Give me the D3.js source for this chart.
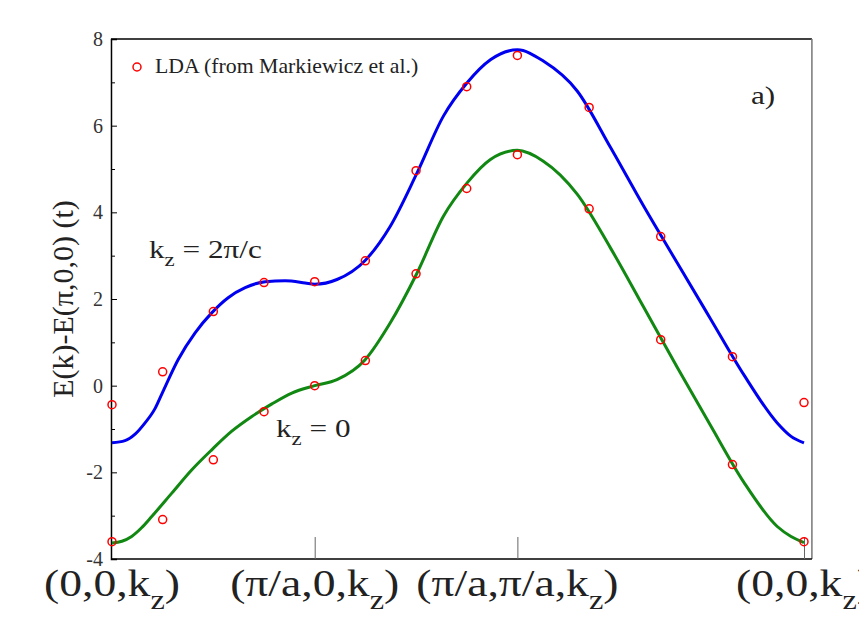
<!DOCTYPE html>
<html>
<head>
<meta charset="utf-8">
<script src="https://cdn.jsdelivr.net/npm/d3@7"></script>
<style>
  body { margin: 0; background: #fff; }
  text { font-family: "Liberation Serif", "Times New Roman", serif; fill: #222; }
</style>
</head>
<body>
<svg id="chart" width="859" height="621"></svg>
<script>
// k-path positions: (0,0) -> (pi,0) -> (pi,pi) -> (0,0), in units of pi/a
var kTicks = [0, 1, 2, 3.414];
var kTickLabels = ["(0,0,k", "(π/a,0,k", "(π/a,π/a,k", "(0,0,k"];

// tight-binding curve, kz = 2pi/c
var blueK = [0, 0.064, 0.114, 0.163, 0.212, 0.245, 0.326, 0.410, 0.492, 0.573, 0.657, 0.756, 0.854, 0.953, 1.0,
  1.110, 1.249, 1.373, 1.505, 1.635, 1.752, 1.867, 2.0,
  2.128, 2.295, 2.459, 2.622, 2.789, 2.953, 3.116, 3.282, 3.35, 3.414];
var blueE = [-1.32, -1.27, -1.12, -0.86, -0.53, -0.20, 0.60, 1.22, 1.68, 2.03, 2.26, 2.40, 2.42, 2.37, 2.34,
  2.45, 2.89, 3.68, 4.91, 6.22, 6.99, 7.52, 7.75,
  7.49, 6.80, 5.50, 4.15, 2.83, 1.54, 0.26, -0.86, -1.17, -1.32];

// tight-binding curve, kz = 0
var greenK = [0, 0.049, 0.097, 0.146, 0.196, 0.295, 0.394, 0.492, 0.591, 0.690, 0.789, 0.887, 1.0,
  1.110, 1.249, 1.373, 1.505, 1.635, 1.752, 1.867, 2.0,
  2.128, 2.295, 2.459, 2.622, 2.789, 2.953, 3.116, 3.282, 3.35, 3.414];
var greenE = [-3.63, -3.59, -3.48, -3.28, -3.02, -2.48, -1.94, -1.48, -1.05, -0.71, -0.42, -0.17, 0.0,
  0.14, 0.60, 1.45, 2.60, 3.91, 4.68, 5.22, 5.43,
  5.18, 4.42, 3.18, 1.82, 0.42, -0.92, -2.22, -3.25, -3.48, -3.62];

// LDA points (from Markiewicz et al.)
var ldaK = [0, 0.25, 0.5, 0.75, 1, 1.25, 1.5, 1.75, 2, 2.354, 2.707, 3.061, 3.414];
var ldaUpper = [-0.44, 0.32, 1.71, 2.38, 2.40, 2.88, 4.96, 6.90, 7.62, 6.42, 3.44, 0.67, -0.39];
var ldaLower = [-3.60, -3.09, -1.71, -0.60, 0.0, 0.58, 2.58, 4.55, 5.33, 4.08, 1.06, -1.82, -3.60];

var yMajor = [-4, -2, 0, 2, 4, 6, 8];
var yMinor = [-3, -1, 1, 3, 5, 7];

var svg = d3.select("#chart");

const x = d3.scaleLinear().domain([0, 3.414]).range([112, 804]);
const y = d3.scaleLinear().domain([-4, 8]).range([559, 39]);
const xLo = -0.005, xHi = 3.453;
const stretch = 1.2;   // the original text is drawn wider than normal

// frame
svg.append("line").attr("x1", x(xLo)).attr("x2", x(xHi)).attr("y1", y(8)).attr("y2", y(8))
  .attr("stroke", "#000").attr("stroke-width", 1.5);
svg.append("line").attr("x1", x(xHi)).attr("x2", x(xHi)).attr("y1", y(8)).attr("y2", y(-4))
  .attr("stroke", "#777").attr("stroke-width", 1.5);

// y axis
const yaxis = d3.axisLeft(y).tickValues(yMajor).tickSize(-6).tickPadding(8)
  .tickFormat(function(d) { return d < 0 ? "-" + Math.abs(d) : d; });
const gy = svg.append("g").attr("transform", `translate(${x(xLo)},0)`).call(yaxis);
gy.select(".domain").attr("stroke-width", 1.5);
gy.selectAll("text").style("font-size", "20px").style("fill", "#333");

const gym = svg.append("g").attr("transform", `translate(${x(xLo)},0)`)
  .call(d3.axisLeft(y).tickValues(yMinor).tickSize(-4).tickFormat(""));
gym.select(".domain").remove();

// x axis
const xaxis = d3.axisBottom(x).tickValues(kTicks.slice(1)).tickSize(-22).tickFormat("");
const gx = svg.append("g").attr("transform", `translate(0,${y(-4)})`).call(xaxis);
gx.select(".domain").attr("d", `M${x(xLo)},0H${x(xHi)}`).attr("stroke-width", 1.5);
gx.selectAll(".tick line").attr("stroke", "#666");

svg.selectAll(".klabel")
  .data(kTicks)
  .enter().append("text")
  .attr("class", "klabel")
  .attr("transform", function(d) { return `translate(${x(d)},596) scale(${stretch},1)`; })
  .attr("text-anchor", "middle")
  .style("font-size", "38px")
  .each(function(d, i) {
    const t = d3.select(this);
    t.append("tspan").text(kTickLabels[i]);
    t.append("tspan").attr("dy", 13).style("font-size", "27px").text("z");
    t.append("tspan").attr("dy", -13).text(")");
  });

// y title
svg.append("text")
  .attr("transform", `translate(73,${(y(8) + y(-4)) / 2}) rotate(-90)`)
  .attr("text-anchor", "middle")
  .style("font-size", "30px")
  .text("E(k)-E(π,0,0) (t)");

// curves
const line = d3.line()
  .x(function(d) { return x(d[0]); })
  .y(function(d) { return y(d[1]); })
  .curve(d3.curveMonotoneX);

svg.append("path")
  .datum(d3.zip(blueK, blueE))
  .attr("d", line)
  .attr("fill", "none")
  .attr("stroke", "#0000f0")
  .attr("stroke-width", 3);

svg.append("path")
  .datum(d3.zip(greenK, greenE))
  .attr("d", line)
  .attr("fill", "none")
  .attr("stroke", "#118811")
  .attr("stroke-width", 3);

// LDA points
var pts = d3.zip(ldaK, ldaUpper).concat(d3.zip(ldaK, ldaLower));
svg.selectAll(".lda")
  .data(pts)
  .enter().append("circle")
  .attr("class", "lda")
  .attr("cx", function(d) { return x(d[0]); })
  .attr("cy", function(d) { return y(d[1]); })
  .attr("r", 4)
  .attr("fill", "none")
  .attr("stroke", "#ff0000")
  .attr("stroke-width", 1.5);

// legend
svg.append("circle").attr("cx", 137).attr("cy", 67).attr("r", 4)
  .attr("fill", "none").attr("stroke", "#ff0000").attr("stroke-width", 1.5);
svg.append("text").attr("transform", "translate(155,73) scale(1.09,1)")
  .style("font-size", "20px")
  .text("LDA (from Markiewicz et al.)");

// annotations
svg.append("text").attr("transform", `translate(751,104) scale(${stretch},1)`)
  .style("font-size", "26px").text("a)");

function kzLabel(px, py, rest) {
  const t = svg.append("text").attr("transform", `translate(${px},${py}) scale(${stretch},1)`)
    .style("font-size", "26px");
  t.append("tspan").text("k");
  t.append("tspan").attr("dy", 8).style("font-size", "19px").text("z");
  t.append("tspan").attr("dy", -8).text(rest);
}
kzLabel(149, 258, " = 2π/c");
kzLabel(276, 437, " = 0");
</script>
</body>
</html>
